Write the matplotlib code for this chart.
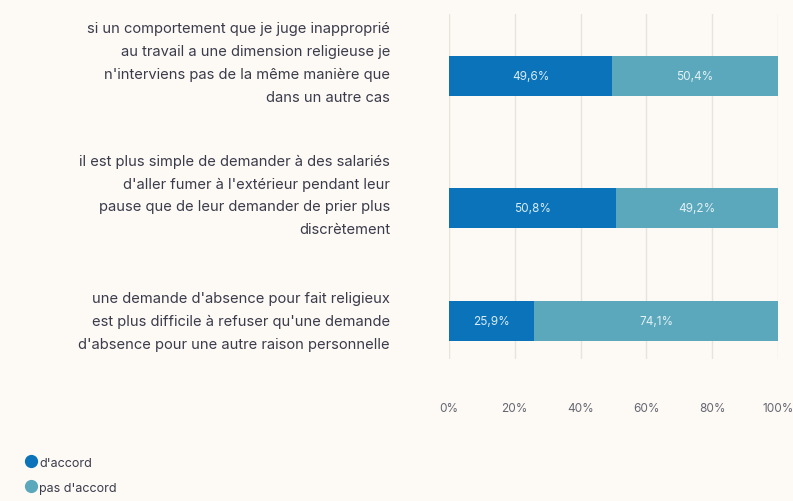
import numpy as np
import matplotlib
matplotlib.use('Agg')
import matplotlib.pyplot as plt
import matplotlib.transforms as mtransforms
from matplotlib.lines import Line2D

# data
statements = [
    "si un comportement que je juge inapproprié\nau travail a une dimension religieuse je\nn'interviens pas de la même manière que\ndans un autre cas",
    "il est plus simple de demander à des salariés\nd'aller fumer à l'extérieur pendant leur\npause que de leur demander de prier plus\ndiscrètement",
    "une demande d'absence pour fait religieux\nest plus difficile à refuser qu'une demande\nd'absence pour une autre raison personnelle",
]
agree = [49.6, 50.8, 25.9]
disagree = [50.4, 49.2, 74.1]
series_names = ["d'accord", "pas d'accord"]
xticks = [0, 20, 40, 60, 80, 100]

# layout / style
row_pos = [0, 1.08, 2]
label_pos = [-0.11, 0.97, 2.0]
BLUE = '#0a73b9'
TEAL = '#5ba8bc'
BG = '#fdfaf6'
TXT = '#3b3b4a'
FONT = 'Inter'

plt.rcParams['font.family'] = [FONT, 'DejaVu Sans']

fig = plt.figure(figsize=(7.93, 5.02), dpi=100, facecolor=BG)
ax = fig.add_axes([449 / 793, 1 - 360 / 502, (778 - 449) / 793, (360 - 15) / 502])
ax.set_facecolor(BG)

h = 0.327
ax.barh(row_pos, agree, height=h, color=BLUE, zorder=3)
ax.barh(row_pos, disagree, left=agree, height=h, color=TEAL, zorder=3)

for y, a, d in zip(row_pos, agree, disagree):
    ax.text(a / 2, y, f"{a:.1f}%".replace('.', ','), ha='center', va='center',
            color='#d9ecf6', fontsize=8.5, zorder=4)
    ax.text(a + d / 2, y, f"{d:.1f}%".replace('.', ','), ha='center', va='center',
            color='#e2f1f5', fontsize=8.5, zorder=4)

ax.set_xlim(0, 100)
ax.set_ylim(2.31, -0.506)
ax.set_xticks(xticks)
ax.set_xticklabels([f"{t}%" for t in xticks], fontsize=8.5, color='#666672')
ax.tick_params(axis='x', length=0, pad=31)
ax.set_yticks([])
ax.grid(axis='x', color='#e7e3dd', linewidth=1, zorder=0)
for s in ax.spines.values():
    s.set_visible(False)

# statement labels on the left
trans = mtransforms.blended_transform_factory(fig.transFigure, ax.transData)
for y, lab in zip(label_pos, statements):
    ax.text(390 / 793, y, lab, transform=trans, ha='right', va='center',
            fontsize=10.6, color=TXT, linespacing=1.8)

# legend
handles = [Line2D([], [], marker='o', linestyle='none', markersize=8.5, color=c)
           for c in (BLUE, TEAL)]
fig.legend(handles, series_names, loc='lower left', bbox_to_anchor=(0.018, -0.008),
           frameon=False, fontsize=9, handletextpad=0.3, labelspacing=1.05,
           labelcolor=TXT, handlelength=0.8)

fig.savefig('out.png', dpi=100, facecolor=BG)
